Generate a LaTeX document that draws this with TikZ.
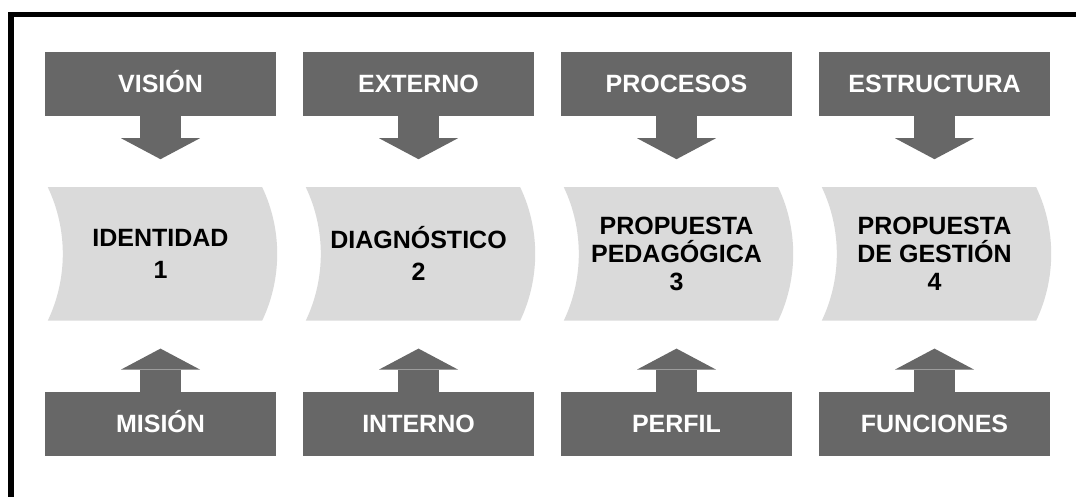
\documentclass[tikz,border=0pt]{standalone}
\usepackage{fontspec}
\setmainfont{Liberation Sans}
\usetikzlibrary{arrows.meta,backgrounds,positioning}

\definecolor{grisoscuro}{HTML}{676767}
\definecolor{grisclaro}{HTML}{DADADA}

\tikzset{
  caja/.style={fill=grisoscuro, text=white, font=\bfseries\fontsize{25}{28}\selectfont,
    minimum width=231pt, minimum height=64pt, inner sep=0pt, text height=18pt, text depth=0pt},
  fase/.style={font=\bfseries\fontsize{25}{28}\selectfont, align=center,
    minimum width=214pt, minimum height=133pt, inner sep=0pt},
  flecha/.style={draw=grisoscuro, line width=41pt,
    -{Triangle[width=79pt,length=21pt,line width=0pt]}, shorten >=28pt},
}

% fondo curvo de cada fase
\newcommand{\fondofase}[1]{
  \fill[grisclaro] ([xshift=-5.5pt]#1.north west) -- ([xshift=-5.5pt]#1.north east)
    .. controls +(20,42) and +(20,-42) .. ([xshift=-5.5pt]#1.south east)
    -- ([xshift=-5.5pt]#1.south west)
    .. controls +(20,-42) and +(20,42) .. ([xshift=-5.5pt]#1.north west) -- cycle;
}

\begin{document}
\begin{tikzpicture}[x=1pt, y=-1pt]
  \useasboundingbox (0,0) rectangle (1076,497);
  \draw[line width=5.5pt] (11,497) -- (11,14.5) -- (1076,14.5);

  \node[caja] (vision) at (160.5,84) {VISIÓN};
  \node[caja] (externo) [right=26.6pt of vision] {EXTERNO};
  \node[caja] (procesos) [right=26.6pt of externo] {PROCESOS};
  \node[caja] (estructura) [right=26.6pt of procesos] {ESTRUCTURA};

  \node[fase] (identidad) [below=71pt of vision] {IDENTIDAD\\[4pt]1};
  \node[fase] (diagnostico) [below=71pt of externo] {DIAGNÓSTICO\\[4pt]2};
  \node[fase] (pedagogica) [below=71pt of procesos] {PROPUESTA\\PEDAGÓGICA\\3};
  \node[fase] (gestion) [below=71pt of estructura] {PROPUESTA\\DE GESTIÓN\\4};

  \node[caja] (mision) [below=71pt of identidad] {MISIÓN};
  \node[caja] (interno) [below=71pt of diagnostico] {INTERNO};
  \node[caja] (perfil) [below=71pt of pedagogica] {PERFIL};
  \node[caja] (funciones) [below=71pt of gestion] {FUNCIONES};

  \begin{scope}[on background layer]
    \fondofase{identidad}
    \fondofase{diagnostico}
    \fondofase{pedagogica}
    \fondofase{gestion}
  \end{scope}

  \draw[flecha] (vision) -- (identidad);
  \draw[flecha] (externo) -- (diagnostico);
  \draw[flecha] (procesos) -- (pedagogica);
  \draw[flecha] (estructura) -- (gestion);
  \draw[flecha] (mision) -- (identidad);
  \draw[flecha] (interno) -- (diagnostico);
  \draw[flecha] (perfil) -- (pedagogica);
  \draw[flecha] (funciones) -- (gestion);
\end{tikzpicture}
\end{document}
